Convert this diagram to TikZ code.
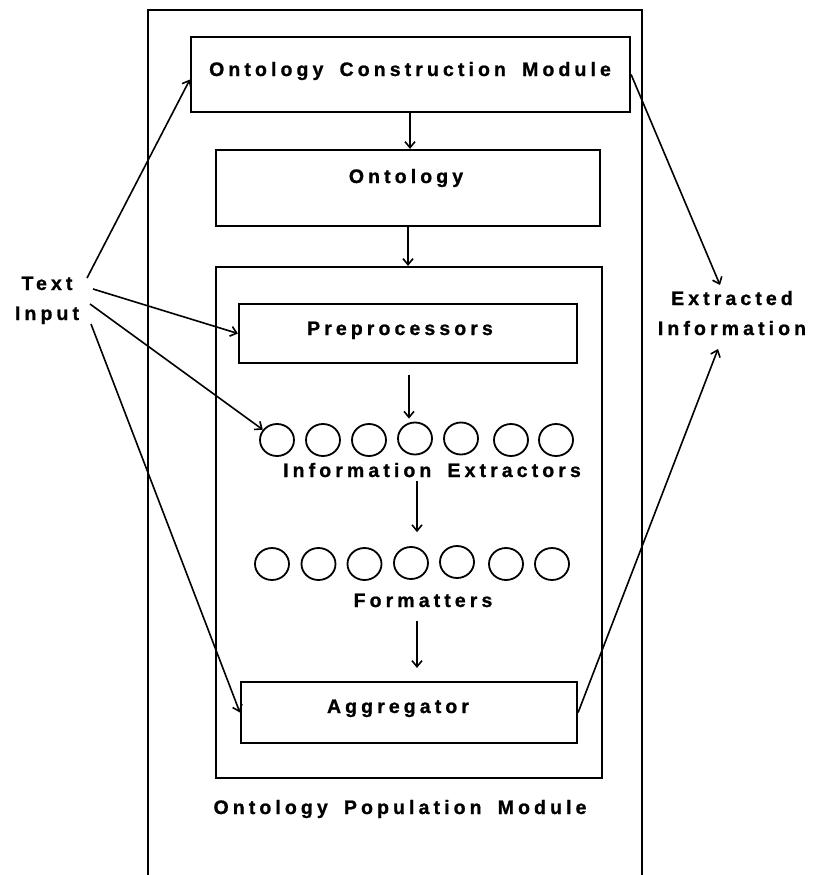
\documentclass[tikz,border=0pt]{standalone}
\usepackage{fontspec}
\setmainfont{Liberation Sans}[BoldFont={Liberation Sans Bold}, BoldFeatures={FakeBold=1}, LetterSpace=21, WordSpace=1.7]
\usetikzlibrary{arrows.meta,shapes.geometric}

\tikzset{
  box/.style={draw, line width=2.2pt, inner sep=0pt},
  lbl/.style={font=\fontsize{19.5}{30}\selectfont\bfseries, anchor=base, inner sep=0pt},
  extractor/.style={draw, ellipse, line width=1.8pt, minimum width=34pt, minimum height=32pt, inner sep=0pt},
  arr/.style={line width=1.6pt, -{Straight Barb[length=6pt,width=10pt,line width=1.6pt]}},
}

\begin{document}
\begin{tikzpicture}[x=1pt, y=-1pt]
\useasboundingbox (0,0) rectangle (815,875);

% outer frame, open at the bottom
\draw[line width=2.2pt] (148,876) -- (148,10) -- (642,10) -- (642,876);

% boxes
\node[box, minimum width=439pt, minimum height=75pt] (ocm) at (410.5,74.5) {};
\node[box, minimum width=384pt, minimum height=76pt] (ont) at (408,188) {};
\node[box, minimum width=386pt, minimum height=511pt] (opm) at (409,522.5) {};
\node[box, minimum width=338pt, minimum height=59pt] (pre) at (408,333.5) {};
\node[box, minimum width=336pt, minimum height=61pt] (agg) at (409,712.5) {};

% labels
\node[lbl] (ocml) at (410,76) {Ontology Construction Module};
\node[lbl] (ontl) at (406,183) {Ontology};
\node[lbl] (prel) at (400,335) {Preprocessors};
\node[lbl] (iel) at (432,477) {Information Extractors};
\node[lbl] (fmtl) at (423,607) {Formatters};
\node[lbl] (aggl) at (398,713) {Aggregator};
\node[lbl] (opml) at (400,814) {Ontology Population Module};
\node[lbl, align=center] (tin) at (47,320) {Text\\Input};
\node[lbl, align=center] (exi) at (732,335) {Extracted\\Information};

% information extractors
\node[extractor] (e1) at (277,440) {};
\node[extractor] (e2) at (323,440) {};
\node[extractor] (e3) at (369,440) {};
\node[extractor] (e4) at (415,438.5) {};
\node[extractor] (e5) at (461,438.5) {};
\node[extractor] (e6) at (511,440) {};
\node[extractor] (e7) at (556,440) {};

% formatters
\node[extractor] (f1) at (272,564) {};
\node[extractor] (f2) at (318.5,564) {};
\node[extractor] (f3) at (364.5,564) {};
\node[extractor] (f4) at (411,563) {};
\node[extractor] (f5) at (457,562) {};
\node[extractor] (f6) at (506,564) {};
\node[extractor] (f7) at (552,564) {};

% free ends near the side labels
\coordinate (t1) at (87,278);
\coordinate (t2) at (93,289);
\coordinate (t3) at (90,304);
\coordinate (t4) at (91,324);
\coordinate (x1) at (720,285);
\coordinate (x2) at (718,349);

% vertical flow
\draw[arr] ([xshift=-0.5pt]ocm.south) -- ([xshift=-0.5pt]ocm.south |- ont.north);
\draw[arr] (ont.south) -- (ont.south |- opm.north);
\draw[arr, shorten <=11pt, shorten >=3pt] ([xshift=1pt]pre.south) -- ([xshift=1pt]pre.south |- e4.north);
\draw[arr, shorten <=4pt] ([xshift=6pt]f4.north |- iel.south) -- ([xshift=6pt,yshift=14pt]f4.north);
\draw[arr, shorten <=14pt] ([xshift=8pt]agg.north |- fmtl.south) -- ([xshift=8pt,yshift=13pt]agg.north);

% text input fan-out
\draw[arr] (t1) -- ([yshift=-5pt]ocm.west);
\draw[arr] (t2) -- (pre.west);
\draw[arr] (t3) -- (e1);
\draw[arr] (t4) -- (agg.west);

% extracted information
\draw[arr] (ocm.east) -- (x1);
\draw[arr] (agg.east) -- (x2);
\end{tikzpicture}
\end{document}
